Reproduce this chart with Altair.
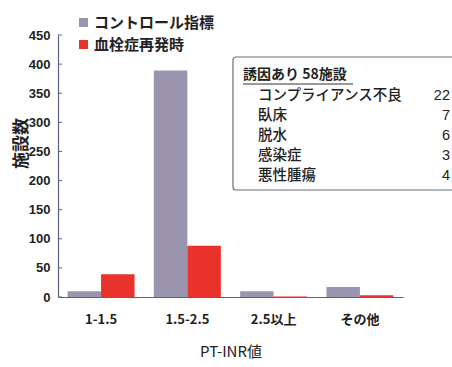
import altair as alt
import pandas as pd

categories = ["1-1.5", "1.5-2.5", "2.5以上", "その他"]
series = ["コントロール指標", "血栓症再発時"]
control_vals = [10, 389, 10, 17]
recur_vals = [39, 88, 1, 3]
colors = ["#9b94ae", "#e8322b"]

box_title = "誘因あり 58施設"
reasons = ["コンプライアンス不良", "臥床", "脱水", "感染症", "悪性腫瘍"]
reason_counts = [22, 7, 6, 3, 4]

y_ticks = [0, 50, 100, 150, 200, 250, 300, 350, 400, 450]

rows = []
for c, a, b in zip(categories, control_vals, recur_vals):
    rows.append({"cat": c, "series": series[0], "v": a})
    rows.append({"cat": c, "series": series[1], "v": b})
df = pd.DataFrame(rows)

reason_df = pd.DataFrame({"reason": reasons, "n": reason_counts, "i": list(range(len(reasons)))})

JP = "Noto Sans CJK JP"
AX = "#5a6088"

yscale = alt.Scale(domain=[0, 450], nice=False)
yaxis = alt.Axis(title="施設数", values=y_ticks, ticks=False, grid=False,
                 domainColor=AX, domainWidth=1.2, labelFont="Liberation Sans",
                 labelFontSize=13, labelFontWeight="bold", labelColor="#222",
                 labelPadding=8, labelOverlap=False, labelBound=False,
                 titleFont=JP, titleFontSize=17, titleFontWeight="bold", titleColor="#222",
                 titleX=-37, titleY=108, titleAlign="center", titleBaseline="middle")

bars = alt.Chart(df).mark_bar().encode(
    x=alt.X("cat:N", sort=categories,
            scale=alt.Scale(paddingInner=0.224, paddingOuter=0.111),
            axis=alt.Axis(title="PT-INR値", labelAngle=0, ticks=False, domainColor=AX,
                          domainWidth=1.2, labelFont=JP, labelFontSize=13, labelFontWeight="bold",
                          labelColor="#222", labelPadding=16,
                          titleFont=JP, titleFontSize=15, titleFontWeight="normal", titleColor="#222",
                          titlePadding=18)),
    xOffset=alt.XOffset("series:N", sort=series, scale=alt.Scale(paddingInner=0, paddingOuter=0)),
    y=alt.Y("v:Q", scale=yscale, axis=yaxis),
    color=alt.Color("series:N", sort=series, scale=alt.Scale(domain=series, range=colors),
                    legend=alt.Legend(title=None, orient="none", legendX=18, legendY=-20,
                                      symbolType="square", symbolSize=81, symbolStrokeWidth=0,
                                      labelFont=JP, labelFontSize=15, labelFontWeight="bold",
                                      labelColor="#222", rowPadding=6, labelOffset=3)),
)

tick_df = pd.DataFrame({"t": y_ticks})
yticks = alt.Chart(tick_df).mark_rule(color=AX, strokeWidth=1).encode(
    y=alt.Y("t:Q", scale=yscale, axis=yaxis), x=alt.value(0), x2=alt.value(4)
)

box = alt.Chart(pd.DataFrame({"a": [0]})).mark_rect(
    fill="white", stroke="#6b6f80", strokeWidth=1.2, cornerRadius=3
).encode(x=alt.value(175), x2=alt.value(410), y=alt.value(22), y2=alt.value(155))

title_txt = alt.Chart(pd.DataFrame({"t": [box_title]})).mark_text(
    font=JP, fontSize=14, fontWeight="bold", color="#222", align="left", baseline="middle"
).encode(text="t:N", x=alt.value(185), y=alt.value(40))

underline = alt.Chart(pd.DataFrame({"a": [0]})).mark_rule(color="#333", strokeWidth=1).encode(
    x=alt.value(185), x2=alt.value(295), y=alt.value(49)
)

reason_txt = alt.Chart(reason_df).transform_calculate(py="61 + datum.i * 20").mark_text(
    font=JP, fontSize=14.5, fontWeight=500, color="#222", align="left", baseline="middle"
).encode(text="reason:N", x=alt.value(200), y=alt.Y("py:Q", scale=None))

count_txt = alt.Chart(reason_df).transform_calculate(py="61 + datum.i * 20").mark_text(
    font="Liberation Sans", fontSize=14.5, color="#222", align="right", baseline="middle"
).encode(text="n:Q", x=alt.value(392), y=alt.Y("py:Q", scale=None))

chart = alt.layer(bars, yticks, box, title_txt, underline, reason_txt, count_txt).properties(
    width=345, height=262,
    padding={"left": 58, "top": 35, "right": 49, "bottom": 70},
    autosize=alt.AutoSizeParams(type="none"),
    background="white",
).configure_view(stroke=None)

chart.save("out.html", embed_options={"renderer": "svg", "actions": False})
